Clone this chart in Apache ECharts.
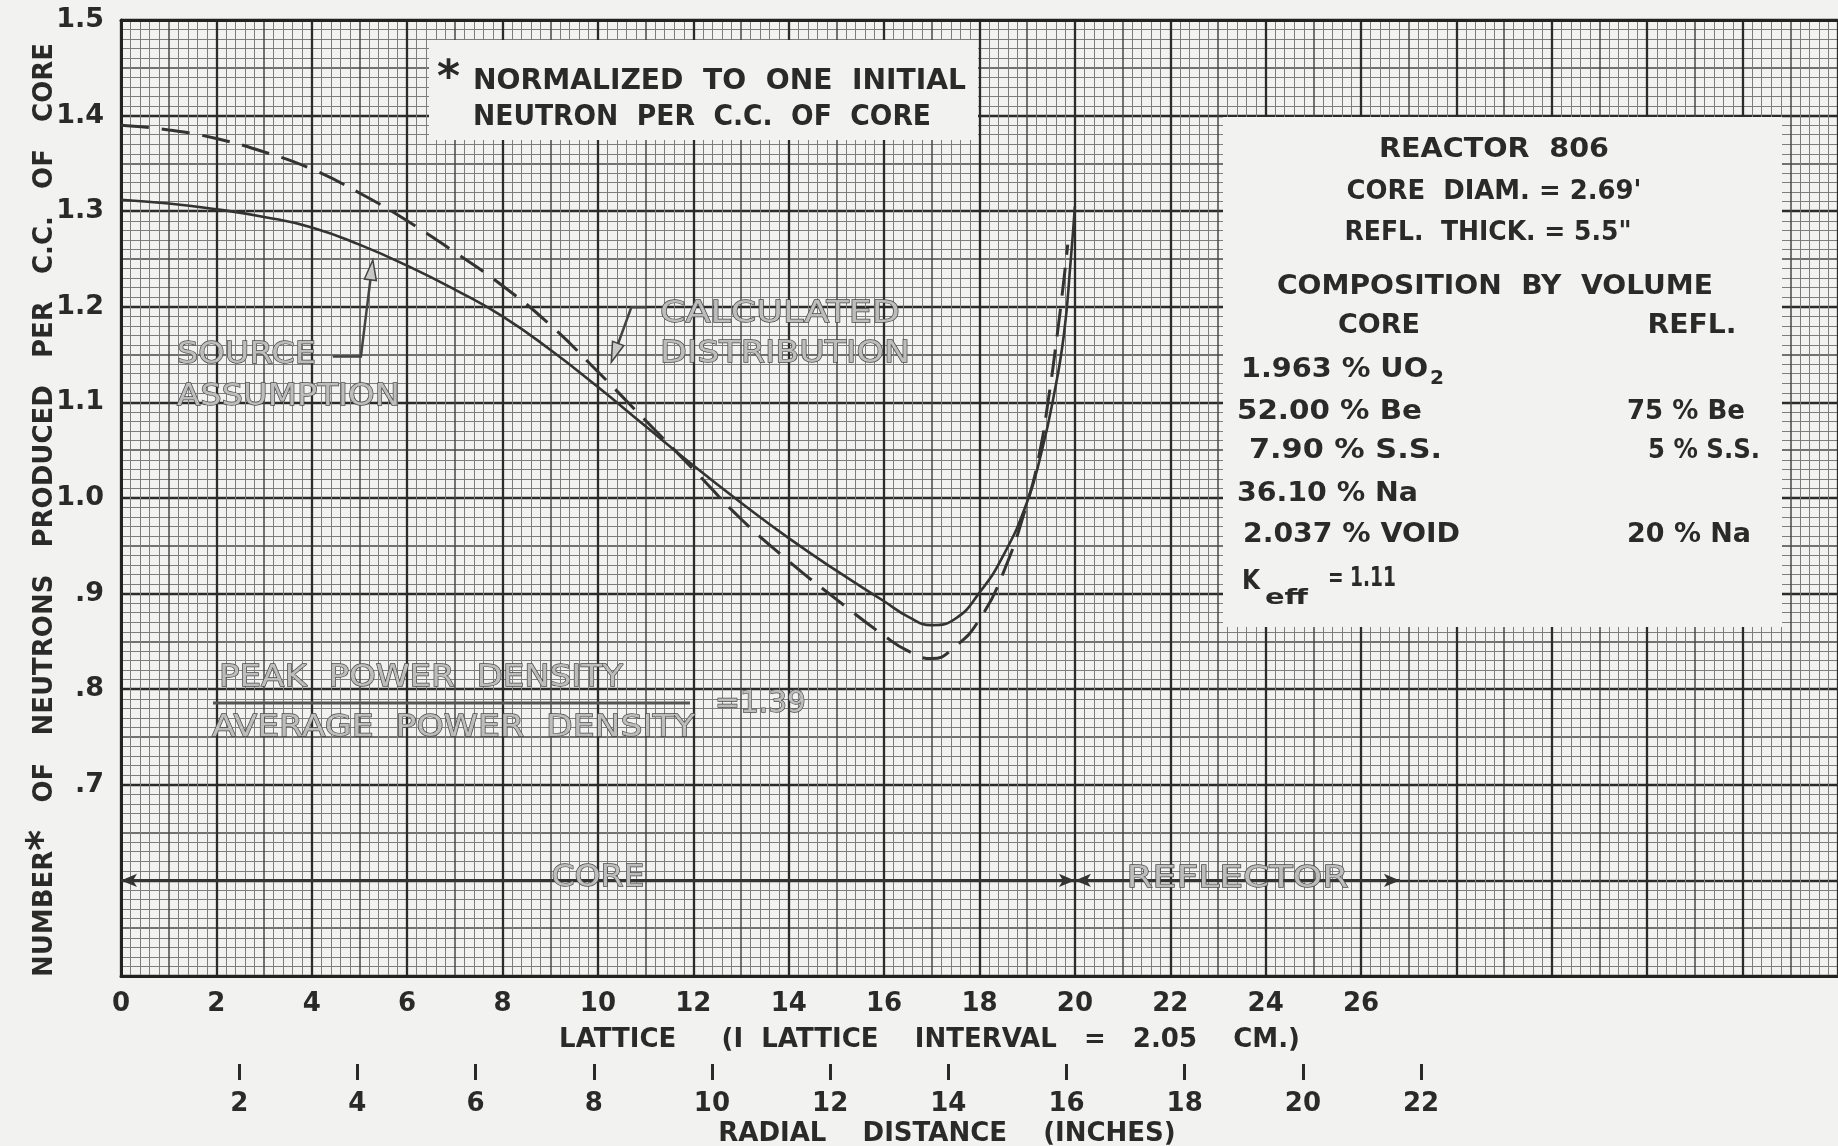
<!DOCTYPE html>
<html>
<head>
<meta charset="utf-8">
<title>Reactor 806 - neutrons produced per c.c. of core</title>
<script src="https://cdn.jsdelivr.net/npm/echarts@6.0.0/dist/echarts.min.js"></script>
<style>
  html, body { margin: 0; padding: 0; background: #f2f2f0; }
  #chart { width: 1838px; height: 1146px; }
</style>
</head>
<body>
<div id="chart"></div>
<script>
// lattice axis (1 lattice interval = 2.05 cm) and inch axis
var latticeTicks = [0, 2, 4, 6, 8, 10, 12, 14, 16, 18, 20, 22, 24, 26];
var inchTicks = [2, 4, 6, 8, 10, 12, 14, 16, 18, 20, 22];
var yTickValues = [1.5, 1.4, 1.3, 1.2, 1.1, 1.0, 0.9, 0.8, 0.7];
var yTickText = ['1.5', '1.4', '1.3', '1.2', '1.1', '1.0', '.9', '.8', '.7'];

// source assumption (solid)
var sourceX = [0, 1, 2, 3, 4, 5, 6, 7, 8, 9, 10, 11, 12, 13, 14, 15, 16, 16.5, 17, 17.5, 18, 18.5, 19, 19.3, 19.55, 19.77, 19.91, 20];
var sourceY = [1.312, 1.308, 1.302, 1.294, 1.283, 1.265, 1.243, 1.218, 1.190, 1.155, 1.116, 1.075, 1.034, 0.995, 0.958, 0.924, 0.892, 0.876, 0.867, 0.874, 0.901, 0.940, 0.996, 1.048, 1.105, 1.171, 1.247, 1.305];

// calculated distribution (dashed)
var calcX = [0, 1, 2, 3, 4, 5, 6, 7, 8, 9, 10, 11, 12, 13, 14, 15, 16, 16.5, 17, 17.5, 18, 18.5, 19, 19.25, 19.45, 19.63, 19.75, 19.85];
var calcY = [1.390, 1.385, 1.376, 1.362, 1.344, 1.319, 1.290, 1.257, 1.222, 1.181, 1.132, 1.081, 1.030, 0.978, 0.934, 0.894, 0.856, 0.840, 0.832, 0.845, 0.873, 0.922, 0.995, 1.045, 1.105, 1.171, 1.220, 1.265];

var XMAX = 36;
var INCH_PER_LATTICE = 2.05 / 2.54;
var REFL_END = 20 + 5.5 / INCH_PER_LATTICE;
var FONT = '"DejaVu Sans", sans-serif';
var INK = '#2a2a2a';
var PAPER = '#f2f2f0';

function pairs(xs, ys) {
  return xs.map(function (x, i) { return [x, ys[i]]; });
}

var chart = echarts.init(document.getElementById('chart'));

var option = {
  backgroundColor: PAPER,
  animation: false,
  grid: { left: 121, top: 20, right: 0, bottom: 170, outerBoundsMode: 'none' },
  xAxis: [
    {
      // lattice axis, medium lines every 1, minor every 0.2
      type: 'value', min: 0, max: XMAX, interval: 1, position: 'bottom',
      name: 'LATTICE     (I  LATTICE    INTERVAL   =   2.05    CM.)',
      nameLocation: 'middle', nameGap: 51, nameMoveOverlap: false,
      nameTextStyle: { fontFamily: FONT, fontWeight: 'bold', fontSize: 26, color: INK, padding: [0, 100, 0, 0] },
      axisLine: { show: true, lineStyle: { color: '#222', width: 3 } },
      axisTick: { show: false },
      axisLabel: {
        margin: 15, fontFamily: FONT, fontWeight: 'bold', fontSize: 26, color: INK,
        formatter: function (v) { return latticeTicks.indexOf(v) >= 0 ? String(v) : ''; }
      },
      splitLine: { show: true, lineStyle: { color: '#474747', width: 1.5 } },
      minorTick: { show: false, splitNumber: 5 },
      minorSplitLine: { show: true, lineStyle: { color: '#7d7d7d', width: 1 } }
    },
    {
      // heavy lines every 2 lattice intervals
      type: 'value', min: 0, max: XMAX, interval: 2, position: 'top',
      axisLine: { show: true, lineStyle: { color: '#222', width: 3 } },
      axisTick: { show: false },
      axisLabel: { show: false },
      splitLine: { show: true, lineStyle: { color: '#2b2b2b', width: 2.3 } }
    },
    {
      // radial distance in inches
      type: 'value', min: 0, max: XMAX * INCH_PER_LATTICE, interval: 2, position: 'bottom', offset: 88,
      name: 'RADIAL    DISTANCE    (INCHES)',
      nameLocation: 'middle', nameGap: 57, nameMoveOverlap: false,
      nameTextStyle: { fontFamily: FONT, fontWeight: 'bold', fontSize: 26, color: INK, padding: [0, 65, 0, 0] },
      axisLine: { show: false },
      axisTick: { show: true, inside: false, length: 16, customValues: inchTicks, lineStyle: { color: INK, width: 3 } },
      axisLabel: { margin: 27, customValues: inchTicks, fontFamily: FONT, fontWeight: 'bold', fontSize: 26, color: INK },
      splitLine: { show: false }
    }
  ],
  yAxis: [
    {
      type: 'value', min: 0.5, max: 1.5, interval: 0.05, position: 'left',
      name: 'NUMBER{s|*}   OF   NEUTRONS   PRODUCED   PER   C.C.   OF   CORE',
      nameLocation: 'middle', nameRotate: 90, nameGap: 56, nameMoveOverlap: false,
      nameTextStyle: {
        fontFamily: FONT, fontWeight: 'bold', fontSize: 26, color: INK, padding: [0, 24, 0, 0],
        rich: { s: { fontFamily: FONT, fontWeight: 'bold', fontSize: 40, color: INK } }
      },
      axisLine: { show: true, lineStyle: { color: '#222', width: 3 } },
      axisTick: { show: false },
      axisLabel: {
        margin: 17, fontFamily: FONT, fontWeight: 'bold', fontSize: 27, color: INK,
        formatter: function (v) {
          for (var i = 0; i < yTickValues.length; i++) {
            if (Math.abs(yTickValues[i] - v) < 1e-6) return yTickText[i];
          }
          return '';
        }
      },
      splitLine: { show: true, lineStyle: { color: '#474747', width: 1.5 } },
      minorTick: { show: false, splitNumber: 5 },
      minorSplitLine: { show: true, lineStyle: { color: '#7d7d7d', width: 1 } }
    },
    {
      type: 'value', min: 0.5, max: 1.5, interval: 0.1, position: 'right',
      axisLine: { show: false },
      axisTick: { show: false },
      axisLabel: { show: false },
      splitLine: { show: true, lineStyle: { color: '#2b2b2b', width: 2.3 } }
    }
  ],
  series: [
    {
      name: 'SOURCE ASSUMPTION', type: 'line', xAxisIndex: 0, yAxisIndex: 0,
      data: pairs(sourceX, sourceY),
      smooth: 0.5, showSymbol: false, z: 5,
      lineStyle: { color: '#333', width: 2.6 },
      markLine: {
        silent: true, symbol: ['arrow', 'arrow'], symbolSize: [10, 16],
        label: { show: false },
        lineStyle: { color: '#333', width: 3, type: 'solid' },
        data: [
          [{ coord: [0, 0.6] }, { coord: [20, 0.6] }],
          [{ coord: [20, 0.6] }, { coord: [REFL_END, 0.6] }]
        ]
      }
    },
    {
      name: 'CALCULATED DISTRIBUTION', type: 'line', xAxisIndex: 0, yAxisIndex: 0,
      data: pairs(calcX, calcY),
      smooth: 0.5, showSymbol: false, z: 5,
      lineStyle: { color: '#333', width: 3, type: [28, 13] }
    }
  ]
};

chart.setOption(option);

// ---- annotations ----
var mctx = document.createElement('canvas').getContext('2d');
function widthOf(str, weight, size) {
  mctx.font = weight + ' ' + size + 'px ' + FONT;
  return mctx.measureText(str).width;
}
function P(x, y) { return chart.convertToPixel({ gridIndex: 0 }, [x, y]); }

// text fitted to a target width, left edge + vertical centre
function txt(str, left, cy, w, o) {
  o = o || {};
  var size = o.size || 26, weight = o.weight || 'bold';
  var sx = w ? w / widthOf(str, weight, size) : 1;
  return {
    type: 'text', x: left, y: cy, scaleX: sx, z: 30, silent: true,
    style: {
      text: str, x: 0, y: 0, fontFamily: FONT, fontSize: size, fontWeight: weight,
      fill: o.fill || INK, stroke: o.stroke || null, lineWidth: o.lineWidth || 0,
      align: 'left', verticalAlign: 'middle'
    }
  };
}
function stencil(str, left, cy, w) {
  return txt(str, left, cy, w, { size: 31, weight: 'normal', fill: '#bdbdbd', stroke: '#4a4a4a', lineWidth: 1.3 });
}
function centered(fn, str, cx, cy, w) { return fn(str, cx - w / 2, cy, w); }

function arrow(pts) {
  var px = pts.map(function (p) { return P(p[0], p[1]); });
  var n = px.length, a = px[n - 2], b = px[n - 1];
  var ang = Math.atan2(b[1] - a[1], b[0] - a[0]);
  var L = 20, W = 6;
  var base = [b[0] - L * Math.cos(ang), b[1] - L * Math.sin(ang)];
  var l = [base[0] + W * Math.sin(ang), base[1] - W * Math.cos(ang)];
  var r = [base[0] - W * Math.sin(ang), base[1] + W * Math.cos(ang)];
  return [
    { type: 'polyline', z: 30, silent: true, shape: { points: px.slice(0, -1).concat([base]) }, style: { stroke: '#444', lineWidth: 2.5, fill: null } },
    { type: 'polygon', z: 30, silent: true, shape: { points: [b, l, r] }, style: { fill: '#c8c8c8', stroke: '#444', lineWidth: 1.5 } }
  ];
}

var g = [];
// white boxes over the grid
g.push({ type: 'rect', z: 20, silent: true, shape: { x: 429, y: 40, width: 549, height: 100 }, style: { fill: PAPER } });
g.push({ type: 'rect', z: 20, silent: true, shape: { x: 1223, y: 117, width: 559, height: 510 }, style: { fill: PAPER } });

// normalisation note
g.push(txt('*', 437, 80, 0, { size: 44 }));
g.push(txt('NORMALIZED  TO  ONE  INITIAL', 473, 82, 493, { size: 28 }));
g.push(txt('NEUTRON  PER  C.C.  OF  CORE', 473, 118, 458, { size: 28 }));

// reactor data box
g.push(centered(txt, 'REACTOR  806', 1494, 150, 230));
g.push(centered(txt, "CORE  DIAM. = 2.69'", 1494, 192, 295));
g.push(centered(txt, 'REFL.  THICK. = 5.5"', 1488, 233, 287));
g.push(centered(txt, 'COMPOSITION  BY  VOLUME', 1495, 287, 436));
g.push(centered(txt, 'CORE', 1379, 326, 82));
g.push(centered(txt, 'REFL.', 1692, 326, 89));
g.push(txt('1.963 % UO', 1241, 370, 187));
g.push(txt('2', 1430, 379, 14, { size: 19 }));
g.push(txt('52.00 % Be', 1237, 412, 185));
g.push(txt('75 % Be', 1627, 412, 118));
g.push(txt('7.90 % S.S.', 1249, 451, 193));
g.push(txt('5 % S.S.', 1648, 451, 112));
g.push(txt('36.10 % Na', 1237, 494, 181));
g.push(txt('2.037 % VOID', 1243, 535, 217));
g.push(txt('20 % Na', 1627, 535, 124));
g.push(txt('K', 1242, 582, 18));
g.push(txt('eff', 1265, 598, 43, { size: 22 }));
g.push(txt('= 1.11', 1328, 579, 68, { size: 26 }));

// curve labels
g.push(stencil('SOURCE', 177, 355, 139));
g.push(stencil('ASSUMPTION', 177, 397, 223));
g.push(stencil('CALCULATED', 660, 314, 240));
g.push(stencil('DISTRIBUTION', 660, 354, 250));
g = g.concat(arrow([[4.44, 1.148], [5.03, 1.148], [5.28, 1.249]]));
g = g.concat(arrow([[11.02, 1.1995], [10.70, 1.1995], [10.28, 1.142]]));

// peak / average power density
g.push(stencil('PEAK  POWER  DENSITY', 219, 678, 404));
g.push({ type: 'line', z: 30, silent: true, shape: { x1: 213, y1: 703, x2: 690, y2: 703 }, style: { stroke: '#555', lineWidth: 3 } });
g.push(stencil('AVERAGE  POWER  DENSITY', 212, 728, 483));
g.push(stencil('=1.39', 715, 704, 91));

// core / reflector
var coreC = P(10, 0.6), reflC = P((20 + REFL_END) / 2, 0.6);
g.push(centered(stencil, 'CORE', coreC[0], coreC[1] - 2, 93));
g.push(centered(stencil, 'REFLECTOR', reflC[0], reflC[1] - 1, 222));

chart.setOption({ graphic: g });
</script>
</body>
</html>
